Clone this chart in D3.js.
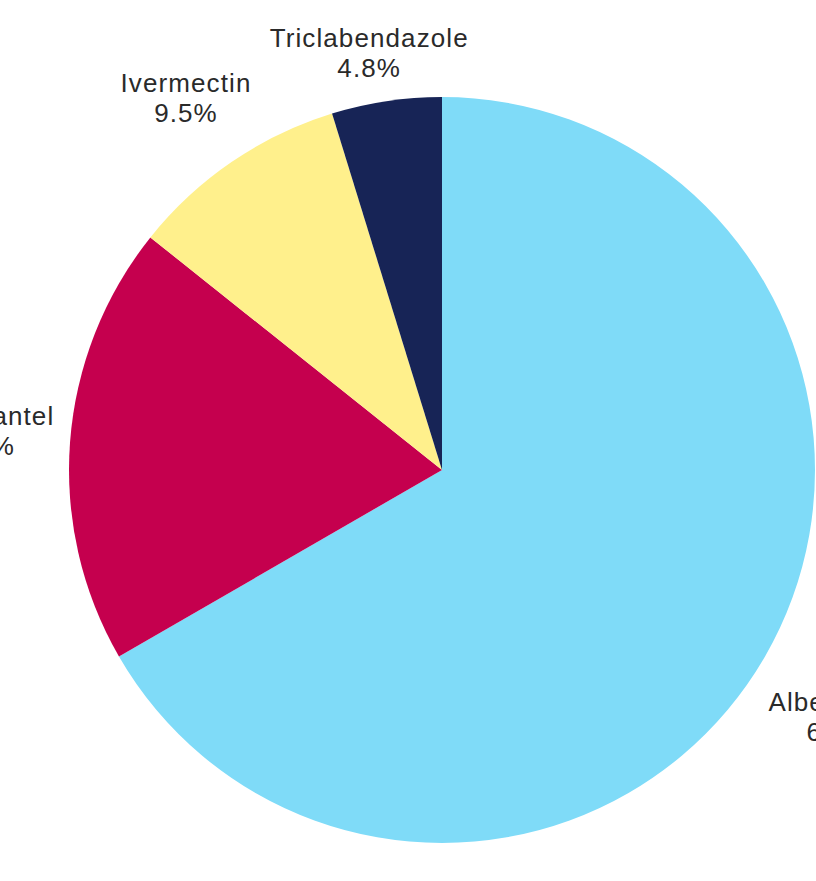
<!DOCTYPE html>
<html>
<head>
<meta charset="utf-8">
<script src="https://cdn.jsdelivr.net/npm/d3@7"></script>
<style>
  body { margin: 0; background: #fff; }
  svg { display: block; }
</style>
</head>
<body>
<div id="vis-container"></div>
<script>
// chart size, pie geometry
const width = 816;
const height = 881;
const center = {x: 442, y: 470};
const radius = 373;
const labelGap = 16; // distance of label box from the pie edge
const labelLift = 100; // extra vertical push for diagonal labels

// data (clockwise from 12 o'clock)
const drugs = ["Albendazole", "Praziquantel", "Ivermectin", "Triclabendazole"];
const counts = [14, 4, 2, 1];
const colors = ["#7fdbf8", "#c5004e", "#fff08c", "#172456"];

const svg = d3.select("#vis-container")
  .append("svg")
  .attr("width", width)
  .attr("height", height);

const total = d3.sum(counts);
const fmt = d3.format(".1%");

const pie = d3.pie().sort(null).value(d => d.count);
const arcs = pie(drugs.map((name, i) => ({name: name, count: counts[i], color: colors[i]})));

const arc = d3.arc().innerRadius(0).outerRadius(radius);

const g = svg.append("g")
  .attr("transform", `translate(${center.x},${center.y})`);

g.selectAll("path.slice")
  .data(arcs)
  .join("path")
  .attr("class", "slice")
  .attr("d", arc)
  .attr("fill", d => d.data.color);

// labels: two lines, box pushed out along the slice mid-angle
const labels = g.selectAll("text.lbl")
  .data(arcs)
  .join("text")
  .attr("class", "lbl")
  .attr("text-anchor", "middle")
  .attr("font-family", "'Liberation Sans', Arial, sans-serif")
  .attr("font-size", "26px")
  .attr("letter-spacing", "1.1px")
  .attr("fill", "#2a2a2a");

labels.append("tspan")
  .attr("x", 0)
  .attr("y", 0)
  .text(d => d.data.name);

labels.append("tspan")
  .attr("x", 0)
  .attr("dy", 30)
  .text(d => fmt(d.data.count / total));

labels.each(function(d) {
  const box = this.getBBox();
  const mid = (d.startAngle + d.endAngle) / 2;
  const sx = Math.sin(mid), sy = -Math.cos(mid);
  const r = radius + labelGap;
  const cx = sx * (r + box.width / 2);
  const cy = sy * (r + box.height / 2) + labelLift * sy * sx * sx;
  const bx = box.x + box.width / 2, by = box.y + box.height / 2;
  d3.select(this).attr("transform", `translate(${cx - bx},${cy - by})`);
});
</script>
</body>
</html>
